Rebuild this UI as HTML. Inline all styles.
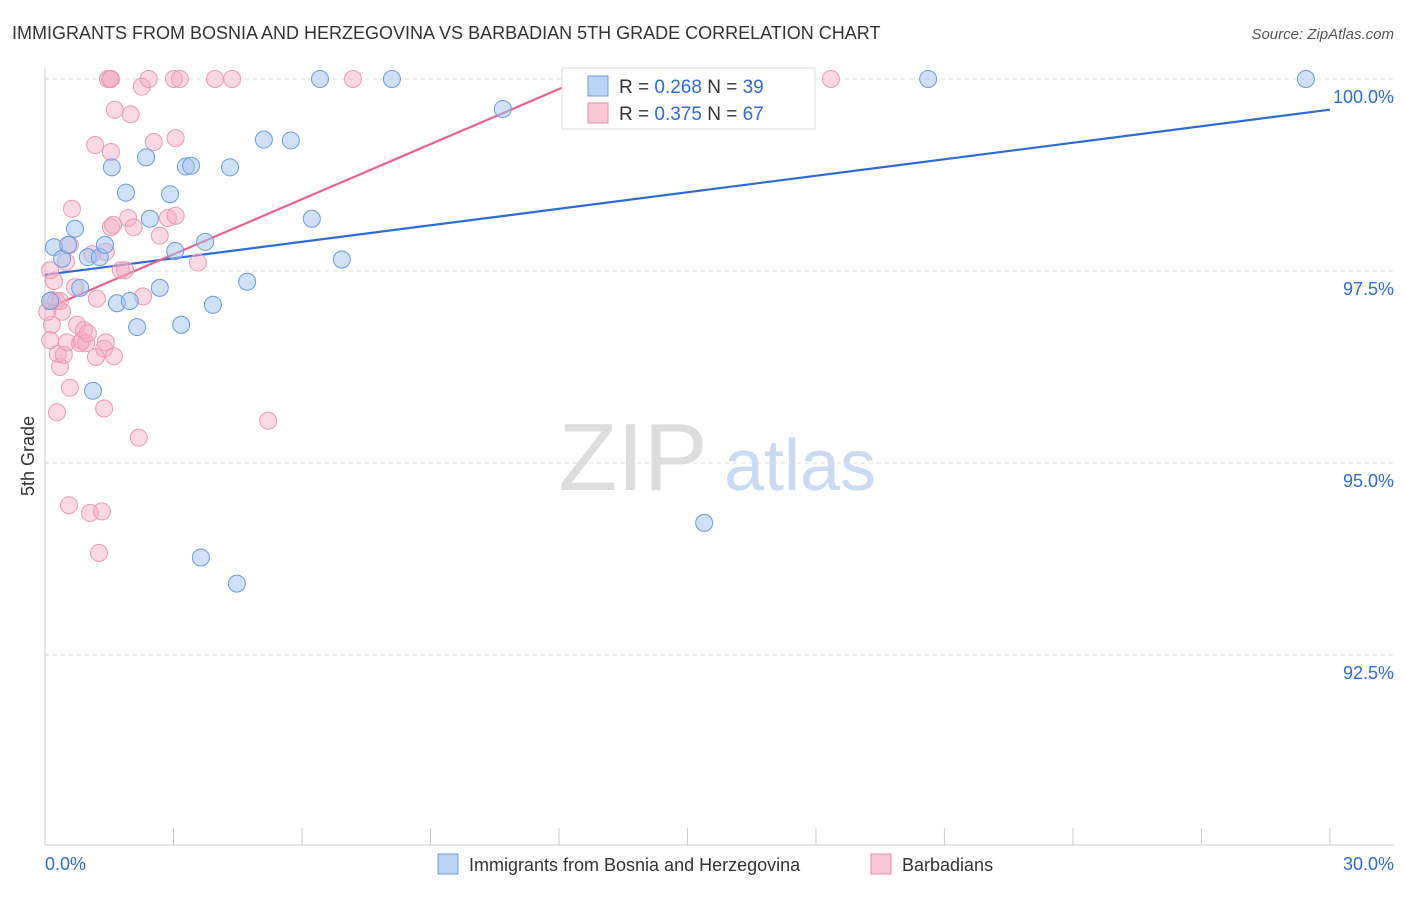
<!DOCTYPE html>
<html><head><meta charset="utf-8"><style>
body{margin:0;background:#fff;font-family:"Liberation Sans",sans-serif}
svg text{font-family:"Liberation Sans",sans-serif}
</style></head><body>
<svg id="chart" width="1406" height="892">
<text x="12" y="39" font-size="18" fill="#333">IMMIGRANTS FROM BOSNIA AND HERZEGOVINA VS BARBADIAN 5TH GRADE CORRELATION CHART</text>
<text x="1394" y="39" font-size="15" fill="#555" font-style="italic" text-anchor="end">Source: ZipAtlas.com</text>
<text x="34" y="456" font-size="18" fill="#333" transform="rotate(-90 34 456)" text-anchor="middle">5th Grade</text>
<g>
<text x="633" y="490" font-size="96" fill="#ddd" font-family="Liberation Serif" text-anchor="middle">ZIP</text>
<text x="800" y="490" font-size="72" fill="#c9daf2" text-anchor="middle">atlas</text>
</g>
<g id="grid"></g><g id="axes"></g><g id="trend"></g><g id="pts"></g>
<g>
<rect x="562" y="68" width="253" height="61" fill="#fff" stroke="#ddd"/>
<rect x="588" y="76" width="20" height="20" fill="#bcd4f4" stroke="#6a9be0"/>
<text x="619" y="93" font-size="19" fill="#333">R = <tspan fill="#2f6bd6">0.268</tspan>   N = <tspan fill="#2f6bd6">39</tspan></text>
<rect x="588" y="103" width="20" height="20" fill="#f8c8d6" stroke="#e88aa8"/>
<text x="619" y="120" font-size="19" fill="#333">R = <tspan fill="#2f6bd6">0.375</tspan>   N = <tspan fill="#2f6bd6">67</tspan></text>
</g>
<g>
<rect x="438" y="854" width="20" height="20" fill="#bcd4f4" stroke="#6a9be0"/>
<text x="469" y="871" font-size="18" fill="#333">Immigrants from Bosnia and Herzegovina</text>
<rect x="871" y="854" width="20" height="20" fill="#f8c8d6" stroke="#e88aa8"/>
<text x="902" y="871" font-size="18" fill="#333">Barbadians</text>
</g>
<text x="45" y="870" font-size="18" fill="#2f6bd6">0.0%</text>
<text x="1394" y="870" font-size="18" fill="#2f6bd6" text-anchor="end">30.0%</text>
</svg>
<script>
const yTicks=[100,97.5,95,92.5];
const yTickLabels=["100.0%","97.5%","95.0%","92.5%"];
const bosniaX=[0.21,0.4,0.54,0.7,0.82,1.0,1.12,1.28,1.4,1.56,1.68,1.89,1.98,2.15,2.36,2.45,2.68,2.92,3.04,3.18,3.29,3.41,3.64,3.74,3.92,4.32,4.48,4.72,5.11,5.74,6.23,6.42,6.93,8.1,10.69,15.39,20.62,29.44,0.12];
const bosniaY=[97.81,97.66,97.84,98.05,97.28,97.68,95.94,97.68,97.84,98.85,97.08,98.52,97.11,96.77,98.98,98.18,97.28,98.5,97.76,96.8,98.86,98.87,93.77,97.88,97.06,98.85,93.43,97.36,99.21,99.2,98.18,100,97.65,100,99.61,94.22,100,100,97.11];
const barbX=[0.12,0.16,0.16,0.21,0.28,0.3,0.35,0.4,0.44,0.51,0.56,0.58,0.63,0.58,0.7,0.75,0.82,0.86,0.91,0.96,1.0,1.05,1.1,1.17,1.19,1.21,1.26,1.33,1.38,1.38,1.42,1.42,1.47,1.54,1.54,1.54,1.59,1.61,1.63,1.77,1.87,1.94,2.0,2.07,2.19,2.26,2.29,2.42,2.54,2.68,2.87,3.01,3.05,3.05,3.15,3.57,3.97,4.37,5.21,7.19,18.35,0.05,0.26,0.12,0.35,0.49,1.52];
const barbY=[96.6,96.8,97.12,97.37,95.66,96.42,96.25,96.97,96.41,96.57,94.45,95.98,98.31,97.84,97.29,96.8,96.56,96.59,96.73,96.56,96.69,94.35,97.72,99.14,96.38,97.14,93.83,94.37,95.71,96.49,96.57,97.75,100,100,99.05,98.07,98.1,96.39,99.6,97.51,97.51,98.19,99.54,98.07,95.33,99.9,97.17,100,99.18,97.96,98.19,100,99.23,98.22,100,97.61,100,100,95.55,100,100,96.97,97.11,97.51,97.11,97.62,100];
const bosniaTrend=[[0,97.45],[30,99.6]];
const barbTrend=[[0,97.0],[12.55,100]];
const X=v=>45+v*42.83, Y=v=>79+(100-v)*76.8;
const NS="http://www.w3.org/2000/svg";
function mk(p,t,a){const e=document.createElementNS(NS,t);for(const k in a)e.setAttribute(k,a[k]);p.appendChild(e);return e;}
const grid=document.getElementById('grid'),axes=document.getElementById('axes');
yTicks.forEach((t,i)=>{
 const l=mk(grid,'line',{x1:45,x2:1394,y1:Y(t),y2:Y(t),stroke:'#ddd','stroke-dasharray':'4 4'});
 
 
 const tx=mk(grid,'text',{x:1394,y:Y(t)+24,'font-size':18,fill:'#2f6bd6','text-anchor':'end'});
 tx.textContent=yTickLabels[i];
 
 
});
mk(axes,'line',{x1:45,x2:45,y1:68,y2:845,stroke:'#ccc'});
mk(axes,'line',{x1:45,x2:1394,y1:845,y2:845,stroke:'#ccc'});
for(let i=0;i<=10;i++){const t=mk(axes,'line',{x1:X(i*3),x2:X(i*3),y1:828,y2:845,stroke:'#ccc'});
 
 }
const tr=document.getElementById('trend');
const lb=mk(tr,'line',{x1:X(bosniaTrend[0][0]),y1:Y(bosniaTrend[0][1]),x2:X(bosniaTrend[1][0]),y2:Y(bosniaTrend[1][1]),stroke:'#2f6bd6','stroke-width':2.2});


const lp=mk(tr,'line',{x1:X(barbTrend[0][0]),y1:Y(barbTrend[0][1]),x2:X(barbTrend[1][0]),y2:Y(barbTrend[1][1]),stroke:'#e8628f','stroke-width':2.2});


const pts=document.getElementById('pts');
barbX.forEach((x,i)=>{const c=mk(pts,'circle',{cx:X(x),cy:Y(barbY[i]),r:8.5,fill:'rgba(245,170,195,0.45)',stroke:'#eb9ab5','stroke-width':1});
 
 });
bosniaX.forEach((x,i)=>{const c=mk(pts,'circle',{cx:X(x),cy:Y(bosniaY[i]),r:8.5,fill:'rgba(160,195,240,0.5)',stroke:'#6a9be0','stroke-width':1});
 
 });
</script>
</body></html>
